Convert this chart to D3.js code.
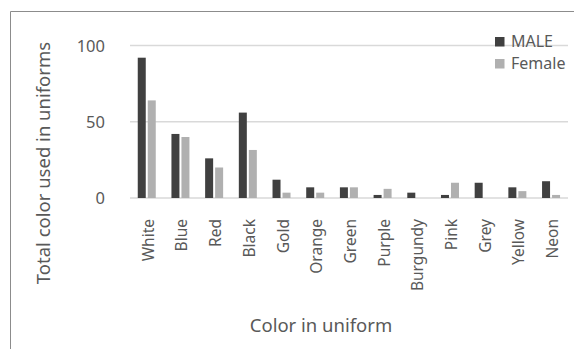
<!DOCTYPE html>
<html><head><meta charset="utf-8">
<script src="https://cdn.jsdelivr.net/npm/d3@7"></script>
<style>body{margin:0;background:#fff}svg{display:block}</style>
</head><body><svg id="c" width="574" height="349"></svg>
<script>
const categories = ["White","Blue","Red","Black","Gold","Orange","Green","Purple","Burgundy","Pink","Grey","Yellow","Neon"];
const series = ["MALE","Female"];
const maleValues = [92,42,26,56,12,7,7,2,3.5,2,10,7,11];
const femaleValues = [64,40,20,31.5,3.5,3.5,7,6,0,10,0,4.5,2];
const yTicks = [0,50,100];
const colors = ["#404040","#b0b0b0"];
const font = "'Noto Sans', sans-serif";
const textColor = "#595959";

const svg = d3.select("#c");
const W = 574, H = 349;
// border
svg.append("path").attr("d", `M10.5,${H} L10.5,11.5 L${W},11.5`).attr("fill","none").attr("stroke","#8c8c8c").attr("stroke-width",1);

const x0 = d3.scaleBand().domain(categories).range([130,568]).padding(0);
const bw = x0.bandwidth();
const x1 = d3.scaleBand().domain(series).range([bw*0.23, bw*0.23+18]).paddingInner(0.2);
const y = d3.scaleLinear().domain([0,100]).range([198,45.5]);

// gridlines
svg.append("g").selectAll("line").data(yTicks).join("line")
  .attr("x1",130).attr("x2",568).attr("y1",d=>y(d)).attr("y2",d=>y(d))
  .attr("stroke","#d9d9d9").attr("stroke-width",1.5);

// y axis labels
const yAxis = d3.axisLeft(y).tickValues(yTicks).tickSize(0).tickPadding(0);
const ya = svg.append("g").attr("transform","translate(105,0)").call(yAxis);
ya.select(".domain").remove();
ya.selectAll("text").attr("font-family",font).attr("font-size",16.5).attr("fill",textColor).attr("dy","0.35em");

// bars
const data = categories.map((c,i)=>({c, vals:[maleValues[i], femaleValues[i]]}));
const g = svg.append("g").selectAll("g").data(data).join("g").attr("transform",d=>`translate(${x0(d.c)},0)`);
g.selectAll("rect").data(d=>d.vals.map((v,j)=>({s:series[j],v,j}))).join("rect")
  .attr("x",d=>x1(d.s)).attr("width",x1.bandwidth())
  .attr("y",d=>y(d.v)).attr("height",d=>y(0)-y(d.v))
  .attr("fill",d=>colors[d.j]);

// x axis labels
const xAxis = d3.axisBottom(x0).tickSize(0).tickPadding(0);
const xa = svg.append("g").attr("transform","translate(1.5,219)").call(xAxis);
xa.select(".domain").remove();
xa.selectAll("text").attr("font-family",font).attr("font-size",15.5).attr("fill",textColor)
  .attr("transform","rotate(-90)").attr("text-anchor","end").attr("x",0).attr("y",0).attr("dy","0.35em");

// axis titles
svg.append("text").attr("transform","translate(49.5,163) rotate(-90)").attr("text-anchor","middle")
  .attr("font-family",font).attr("font-size",18.5).attr("fill",textColor).text("Total color used in uniforms");
svg.append("text").attr("x",321).attr("y",332).attr("text-anchor","middle")
  .attr("font-family",font).attr("font-size",18.5).attr("fill",textColor).text("Color in uniform");

// legend
const lg = svg.append("g").selectAll("g").data(series).join("g").attr("transform",(d,i)=>`translate(495,${37+i*22})`);
lg.append("rect").attr("width",9.5).attr("height",9.5).attr("fill",(d,i)=>colors[i]);
lg.append("text").attr("x",16).attr("y",9.5).attr("font-family",font).attr("font-size",16).attr("fill",textColor).text(d=>d);
</script></body></html>
